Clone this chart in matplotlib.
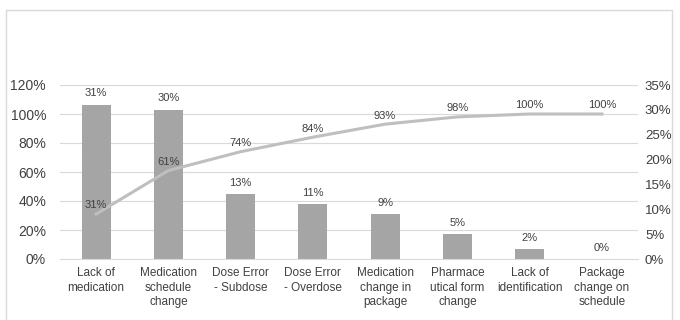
import matplotlib.pyplot as plt
from matplotlib.patches import Rectangle

categories = ['Lack of\nmedication', 'Medication\nschedule\nchange', 'Dose Error\n- Subdose',
              'Dose Error\n- Overdose', 'Medication\nchange in\npackage', 'Pharmace\nutical form\nchange',
              'Lack of\nidentification', 'Package\nchange on\nschedule']
share = [31, 30, 13, 11, 9, 5, 2, 0]
cumulative = [31, 61, 74, 84, 93, 98, 100, 100]
left_ticks = [0, 20, 40, 60, 80, 100, 120]
right_ticks = [0, 5, 10, 15, 20, 25, 30, 35]
LEFT_MAX = 120
RIGHT_MAX = 35

plt.rcParams['font.family'] = ['Liberation Sans', 'DejaVu Sans']

fig = plt.figure(figsize=(6.8, 3.2), dpi=100)
fig.patches.append(Rectangle((6 / 680, -0.1), 666 / 680, 1.1 - 10 / 320, transform=fig.transFigure,
                             fill=False, edgecolor='#d9d9d9', linewidth=1))

ax = fig.add_axes([60 / 680, 1 - 259 / 320, 578 / 680, 174 / 320])
ax2 = ax.twinx()

x = list(range(len(categories)))

# bars belong to the right axis, line to the left one (kept on top)
ax.set_zorder(ax2.get_zorder() + 1)
ax.patch.set_visible(False)

for t in left_ticks[1:]:
  ax2.axhline(t * RIGHT_MAX / LEFT_MAX, color='#d9d9d9', linewidth=0.8, zorder=0)

ax2.bar(x, share, width=0.4, color='#a5a5a5', zorder=2)
for xi, v in zip(x, share):
  ax2.text(xi, v + 1.3, '%d%%' % v, ha='center', va='bottom', fontsize=8, color='#404040')

ax.plot(x, cumulative, color='#bfbfbf', linewidth=2.2, zorder=3)
for xi, v in zip(x, cumulative):
  ax.text(xi, v + 2.5, '%d%%' % v, ha='center', va='bottom', fontsize=8, color='#404040')

ax.set_ylim(0, LEFT_MAX)
ax2.set_ylim(0, RIGHT_MAX)
ax.set_xlim(-0.5, len(categories) - 0.5)

ax.set_yticks(left_ticks)
ax.set_yticklabels(['%d%%' % t for t in left_ticks])
ax2.set_yticks(right_ticks)
ax2.set_yticklabels(['%d%%' % t for t in right_ticks])

ax.set_xticks(x)
ax.set_xticklabels(categories, fontsize=8.5, color='#404040', linespacing=1.25)

for a in (ax, ax2):
  for s in a.spines.values():
    s.set_visible(False)
  a.tick_params(length=0, labelsize=10, colors='#404040')
ax.spines['bottom'].set_visible(True)
ax.spines['bottom'].set_color('#d9d9d9')
ax.tick_params(axis='x', pad=6, labelsize=8.5)
ax.tick_params(axis='y', pad=10)
ax2.tick_params(axis='y', pad=5, labelsize=9.5)

fig.savefig('out.png', dpi=100)
